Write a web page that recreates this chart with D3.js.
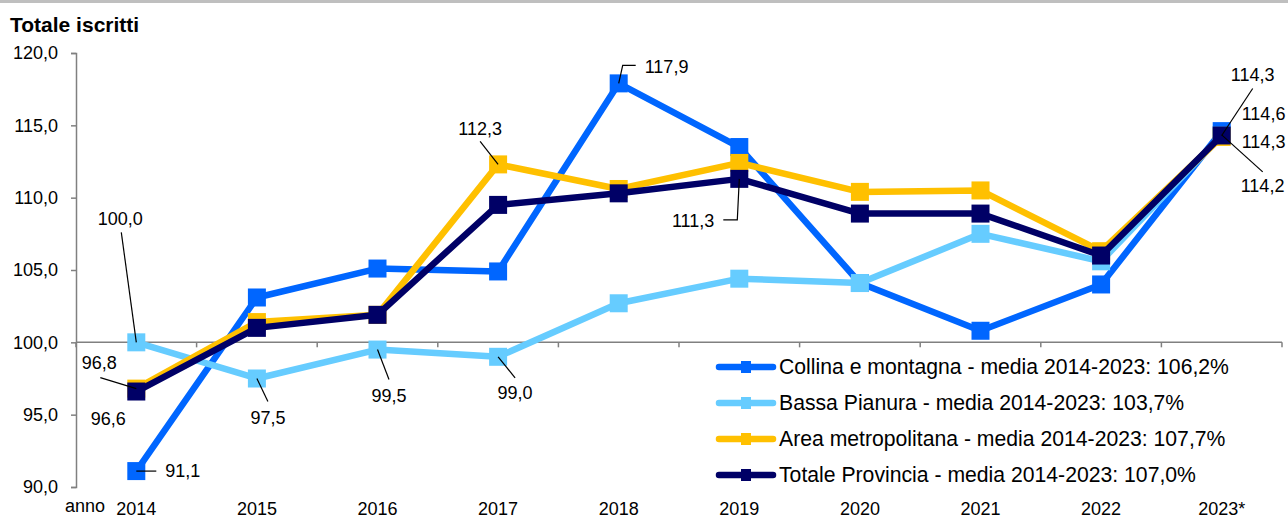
<!DOCTYPE html>
<html>
<head>
<meta charset="utf-8">
<script src="https://cdn.jsdelivr.net/npm/d3@7"></script>
<style>
  body { margin: 0; background: #fff; }
  text { font-family: "Liberation Sans", Arial, sans-serif; fill: #000; }
</style>
</head>
<body>
<div id="chart"></div>
<script>

// data

var years = ["2014", "2015", "2016", "2017", "2018", "2019", "2020", "2021", "2022", "2023*"];

var collina = [91.1, 103.1, 105.1, 104.9, 117.9, 113.5, 104.1, 100.8, 104.0, 114.6];
var bassa = [100.0, 97.5, 99.5, 99.0, 102.7, 104.4, 104.1, 107.5, 105.6, 114.3];
var metro = [96.8, 101.4, 101.9, 112.3, 110.6, 112.4, 110.4, 110.5, 106.3, 114.2];
var totale = [96.6, 101.0, 101.9, 109.5, 110.3, 111.3, 108.9, 108.9, 106.0, 114.3];

var seriesNames = [
  "Collina e montagna - media 2014-2023: 106,2%",
  "Bassa Pianura - media 2014-2023: 103,7%",
  "Area metropolitana - media 2014-2023: 107,7%",
  "Totale Provincia - media 2014-2023: 107,0%"
];
var seriesColors = ["#0066ff", "#66ccff", "#ffc000", "#000066"];
var yTicks = [90, 95, 100, 105, 110, 115, 120];

var allSeries = [collina, bassa, metro, totale];

// data labels: series index, year index, text offset, leader line (relative to the point)
var labels = [
  { s: 1, i: 0, dx: -16, dy: -124, anchor: "middle", leader: [[-15, -110], [0, 0]] },
  { s: 2, i: 0, dx: -37, dy: -26, anchor: "middle", leader: [[-36, -11], [0, 0]] },
  { s: 3, i: 0, dx: -28, dy: 27, anchor: "middle", leader: null },
  { s: 0, i: 0, dx: 29, dy: 0, anchor: "start", leader: [[0, 0], [20, 0]] },
  { s: 1, i: 1, dx: 11, dy: 39, anchor: "middle", leader: [[0, 0], [11, 23]] },
  { s: 1, i: 2, dx: 11.5, dy: 46, anchor: "middle", leader: [[0, 0], [11.5, 30]] },
  { s: 1, i: 3, dx: 17, dy: 36, anchor: "middle", leader: [[0, 0], [17, 21]] },
  { s: 2, i: 3, dx: -18, dy: -36, anchor: "middle", leader: [[-18, -23], [0, 0]] },
  { s: 0, i: 4, dx: 26, dy: -17, anchor: "start", leader: [[0, 0], [4, -18], [17, -18]] },
  { s: 3, i: 5, dx: -25, dy: 42, anchor: "end", leader: [[0, 0], [-2, 41], [-16, 41]] },
  { s: 1, i: 9, dx: 31, dy: -61, anchor: "middle", leader: [[0, 0], [31, -47]] },
  { s: 0, i: 9, dx: 20, dy: -17, anchor: "start", leader: null },
  { s: 3, i: 9, dx: 20, dy: 6, anchor: "start", leader: null },
  { s: 2, i: 9, dx: 19, dy: 49, anchor: "start", leader: [[0, -2], [41, 35]] }
];

// set svg height/ width

var svgWidth = 1288;
var svgHeight = 519;

var plotLeft = 76;
var plotRight = 1282;
var plotTop = 53;
var plotBottom = 487;

var svg = d3.select("#chart")
  .append("svg")
  .attr("width", svgWidth)
  .attr("height", svgHeight);

svg.append("rect")
  .attr("width", svgWidth)
  .attr("height", svgHeight)
  .attr("fill", "#fff");

// grey rule on top
svg.append("line")
  .attr("x1", 0).attr("x2", svgWidth)
  .attr("y1", 1.5).attr("y2", 1.5)
  .attr("stroke", "#bfbfbf")
  .attr("stroke-width", 3);

svg.append("text")
  .attr("x", 10)
  .attr("y", 32)
  .attr("font-size", 21)
  .attr("font-weight", "bold")
  .text("Totale iscritti");

// scales

var xScale = d3.scaleBand()
  .domain(years)
  .range([plotLeft, plotRight]);

var yScale = d3.scaleLinear()
  .domain([90, 120])
  .range([plotBottom, plotTop]);

var px = function(i) { return xScale(years[i]) + xScale.bandwidth() / 2; };

// y axis

var yAxis = d3.axisLeft(yScale)
  .tickValues(yTicks)
  .tickSize(5)
  .tickPadding(13)
  .tickFormat(function(d) { return d3.format(".1f")(d).replace(".", ","); });

var yG = svg.append("g")
  .attr("transform", "translate(" + plotLeft + ",0)")
  .call(yAxis);
yG.select(".domain").attr("stroke", "#808080").attr("stroke-width", 1.5);
yG.selectAll(".tick line").attr("stroke", "#808080").attr("stroke-width", 1.5);
yG.selectAll(".tick text")
  .attr("font-size", 18)
  .attr("font-family", "Liberation Sans, Arial, sans-serif")
  .attr("fill", "#000");

// x axis crosses at 100

var xG = svg.append("g")
  .attr("transform", "translate(0," + yScale(100) + ")");
xG.append("line")
  .attr("x1", plotLeft).attr("x2", plotRight)
  .attr("stroke", "#808080").attr("stroke-width", 1.5);
xG.selectAll(".xtick")
  .data(d3.range(years.length + 1))
  .enter()
  .append("line")
  .attr("x1", function(d) { return plotLeft + d * xScale.step(); })
  .attr("x2", function(d) { return plotLeft + d * xScale.step(); })
  .attr("y1", 0).attr("y2", 5)
  .attr("stroke", "#808080").attr("stroke-width", 1.5);

svg.selectAll(".year")
  .data(years)
  .enter()
  .append("text")
  .attr("x", function(d, i) { return px(i); })
  .attr("y", 514.5)
  .attr("text-anchor", "middle")
  .attr("font-size", 18)
  .text(function(d) { return d; });

svg.append("text")
  .attr("x", 65)
  .attr("y", 512)
  .attr("font-size", 18)
  .text("anno");

// lines and markers

var line = d3.line()
  .x(function(d, i) { return px(i); })
  .y(function(d) { return yScale(d); });

allSeries.forEach(function(values, s) {
  var g = svg.append("g");
  g.append("path")
    .datum(values)
    .attr("d", line)
    .attr("fill", "none")
    .attr("stroke", seriesColors[s])
    .attr("stroke-width", 6.5)
    .attr("stroke-linejoin", "round");
  g.selectAll("rect")
    .data(values)
    .enter()
    .append("rect")
    .attr("x", function(d, i) { return px(i) - 9; })
    .attr("y", function(d) { return yScale(d) - 9; })
    .attr("width", 18)
    .attr("height", 18)
    .attr("fill", seriesColors[s]);
});

// data labels

labels.forEach(function(l) {
  var v = allSeries[l.s][l.i];
  var x0 = px(l.i);
  var y0 = yScale(v);
  if (l.leader) {
    svg.append("path")
      .attr("d", d3.line()(l.leader.map(function(p) { return [x0 + p[0], y0 + p[1]]; })))
      .attr("fill", "none")
      .attr("stroke", "#000")
      .attr("stroke-width", 1.2);
  }
  svg.append("text")
    .attr("x", x0 + l.dx)
    .attr("y", y0 + l.dy)
    .attr("dy", "0.35em")
    .attr("text-anchor", l.anchor)
    .attr("font-size", 18)
    .text(d3.format(".1f")(v).replace(".", ","));
});

// legend

var legend = svg.append("g")
  .attr("transform", "translate(716,367)");

var rows = legend.selectAll("g")
  .data(seriesNames)
  .enter()
  .append("g")
  .attr("transform", function(d, i) { return "translate(0," + i * 36 + ")"; });

rows.append("line")
  .attr("x1", 3).attr("x2", 57)
  .attr("stroke", function(d, i) { return seriesColors[i]; })
  .attr("stroke-width", 6.5)
  .attr("stroke-linecap", "round");

rows.append("rect")
  .attr("x", 25).attr("y", -6)
  .attr("width", 10).attr("height", 12)
  .attr("fill", function(d, i) { return seriesColors[i]; });

rows.append("text")
  .attr("x", 63)
  .attr("dy", "0.35em")
  .attr("font-size", 21.2)
  .text(function(d) { return d; });

</script>
</body>
</html>
